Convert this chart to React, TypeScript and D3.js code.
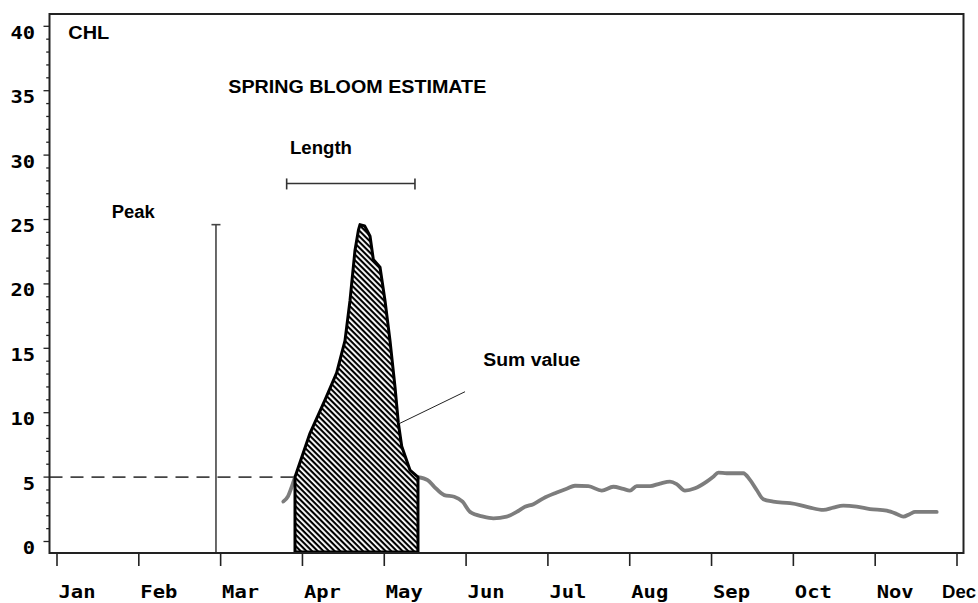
import React from 'react';
import * as d3 from 'd3';

const monthLabels = ['Jan', 'Feb', 'Mar', 'Apr', 'May', 'Jun', 'Jul', 'Aug', 'Sep', 'Oct', 'Nov', 'Dec'];
const yMajorTicks = [0, 5, 10, 15, 20, 25, 30, 35, 40];
const yMinorTicks = d3.range(0, 41, 1);

// Chlorophyll series: position in months from 1 Jan, value
const chlMonth = [
  2.766, 2.823, 2.872, 2.909, 3.092, 3.276, 3.418, 3.52, 3.581, 3.642, 3.685, 3.703, 3.76, 3.785,
  3.826, 3.866, 3.948, 4.009, 4.07, 4.131, 4.172, 4.213, 4.314, 4.412, 4.53, 4.611, 4.733, 4.855,
  4.957, 5.048, 5.21, 5.333, 5.496, 5.619, 5.72, 5.822, 5.944, 6.108, 6.23, 6.331, 6.494, 6.658,
  6.799, 6.921, 7.003, 7.085, 7.248, 7.37, 7.492, 7.574, 7.675, 7.798, 7.941, 8.021, 8.083, 8.185,
  8.388, 8.47, 8.552, 8.633, 8.755, 8.959, 9.081, 9.203, 9.366, 9.488, 9.61, 9.774, 9.937, 10.141,
  10.263, 10.344, 10.426, 10.487, 10.63, 10.752,
];
const chlValue = [
  3.1, 3.5, 4.3, 5.0, 8.4, 11.0, 13.1, 15.6, 18.7, 22.6, 24.2, 24.6, 24.5, 24.2,
  23.7, 21.9, 21.3, 18.7, 15.6, 12.0, 9.2, 7.4, 5.55, 5.0, 4.77, 4.25, 3.6, 3.47,
  3.09, 2.3, 1.93, 1.8, 1.93, 2.3, 2.7, 2.9, 3.35, 3.8, 4.1, 4.33, 4.3, 3.95,
  4.25, 4.08, 3.95, 4.3, 4.3, 4.5, 4.65, 4.46, 3.95, 4.13, 4.65, 5.03, 5.35, 5.3,
  5.3, 4.78, 4.0, 3.28, 3.1, 2.97, 2.83, 2.63, 2.45, 2.63, 2.78, 2.7, 2.52, 2.39,
  2.14, 1.93, 2.14, 2.3, 2.3, 2.3,
];

const bloomStart = 2.909;
const bloomEnd = 4.412;
const threshold = 5;
const peakMonth = 1.943;
const peakValue = 24.6;
const lengthStart = 2.807;
const lengthEnd = 4.375;
const lengthLevel = 27.8;
const sumPointerMonth = [4.192, 4.987];
const sumPointerValue = [9.18, 11.63];

const W = 978;
const H = 603;
const frame = { left: 49.5, right: 963.5, top: 14, bottom: 553 };

export default function App() {
  const x = d3.scaleLinear().domain([0, 11]).range([57, 957]);
  const y = d3.scaleLinear().domain([0, 40]).range([541.5, 26.3]);

  const pts = chlMonth.map((m, i) => ({ m, v: chlValue[i] }));
  const pre = pts.filter((p) => p.m <= bloomStart);
  const bloom = pts.filter((p) => p.m >= bloomStart && p.m <= bloomEnd);
  const post = pts.filter((p) => p.m >= bloomEnd);

  const line = d3
    .line<{ m: number; v: number }>()
    .x((d) => x(d.m))
    .y((d) => y(d.v))
    .curve(d3.curveMonotoneX);

  const area = d3
    .area<{ m: number; v: number }>()
    .x((d) => x(d.m))
    .y0(frame.bottom - 1)
    .y1((d) => y(d.v))
    .curve(d3.curveLinear);

  const sansBold = { fontFamily: '"Liberation Sans", Arial, sans-serif', fontWeight: 700, fontSize: 18, fill: '#000' };
  const monoBold = { fontFamily: '"DejaVu Sans Mono", monospace', fontWeight: 700, fontSize: 18, fill: '#000' };

  const annotations = [
    { text: 'CHL', x: 68.3, y: 39.3, len: 41 },
    { text: 'SPRING BLOOM ESTIMATE', x: 228.3, y: 92.7, len: 258 },
    { text: 'Length', x: 290, y: 154, len: 62 },
    { text: 'Peak', x: 111.7, y: 218.3, len: 43 },
    { text: 'Sum value', x: 483.3, y: 365.7, len: 97 },
  ];

  return (
    <svg width={W} height={H} style={{ position: 'absolute', left: 0, top: 0, background: '#fff' }}>
      <defs>
        <pattern id="hatch" patternUnits="userSpaceOnUse" width={4} height={4} patternTransform="rotate(45)">
          <rect width={4} height={4} fill="#fff" />
          <rect x={0} y={0} width={4} height={2.1} fill="#000" />
        </pattern>
      </defs>
      <rect x={0} y={0} width={W} height={H} fill="#fff" />

      {/* threshold dashed line */}
      <line
        x1={frame.left}
        x2={x(bloomStart)}
        y1={y(threshold)}
        y2={y(threshold)}
        stroke="#444"
        strokeWidth={1.6}
        strokeDasharray="13 8"
      />

      {/* peak marker */}
      <line x1={x(peakMonth)} x2={x(peakMonth)} y1={y(peakValue)} y2={frame.bottom} stroke="#444" strokeWidth={1.6} />
      <line x1={x(peakMonth) - 4.5} x2={x(peakMonth) + 4.5} y1={y(peakValue)} y2={y(peakValue)} stroke="#444" strokeWidth={1.6} />

      {/* length bar */}
      <line x1={x(lengthStart)} x2={x(lengthEnd)} y1={y(lengthLevel)} y2={y(lengthLevel)} stroke="#333" strokeWidth={1.6} />
      <line x1={x(lengthStart)} x2={x(lengthStart)} y1={y(lengthLevel) - 5} y2={y(lengthLevel) + 6} stroke="#333" strokeWidth={1.6} />
      <line x1={x(lengthEnd)} x2={x(lengthEnd)} y1={y(lengthLevel) - 5} y2={y(lengthLevel) + 6} stroke="#333" strokeWidth={1.6} />

      {/* gray series */}
      <path d={line(pre) || ''} fill="none" stroke="#7d7d7d" strokeWidth={3.8} strokeLinecap="round" strokeLinejoin="round" />
      <path d={line(post) || ''} fill="none" stroke="#7d7d7d" strokeWidth={3.8} strokeLinecap="round" strokeLinejoin="round" />

      {/* bloom area */}
      <path d={area(bloom) || ''} fill="url(#hatch)" stroke="#000" strokeWidth={3} strokeLinejoin="round" />

      {/* sum pointer */}
      <line
        x1={x(sumPointerMonth[0])}
        y1={y(sumPointerValue[0])}
        x2={x(sumPointerMonth[1])}
        y2={y(sumPointerValue[1])}
        stroke="#222"
        strokeWidth={1}
      />

      {/* frame */}
      <rect
        x={frame.left}
        y={frame.top}
        width={frame.right - frame.left}
        height={frame.bottom - frame.top}
        fill="none"
        stroke="#222"
        strokeWidth={2}
      />

      {/* y axis ticks */}
      {yMinorTicks.map((t) => (
        <line
          key={'m' + t}
          x1={frame.left - (t % 5 === 0 ? 6 : 3.3)}
          x2={frame.left}
          y1={y(t)}
          y2={y(t)}
          stroke="#222"
          strokeWidth={1.3}
        />
      ))}
      {yMajorTicks.map((t) => (
        <text
          key={'yl' + t}
          x={35}
          y={y(t) + 12.5}
          textAnchor="end"
          textLength={String(t).length * 12.3}
          lengthAdjust="spacingAndGlyphs"
          style={monoBold}
        >
          {t}
        </text>
      ))}

      {/* x axis ticks */}
      {monthLabels.map((m, i) => (
        <line key={'xt' + m} x1={x(i)} x2={x(i)} y1={frame.bottom} y2={frame.bottom + 13} stroke="#222" strokeWidth={1.6} />
      ))}
      {monthLabels.map((m, i) =>
        m === 'Dec' ? (
          <text key={'xl' + m} x={942} y={598} textLength={34} lengthAdjust="spacingAndGlyphs" style={{ ...sansBold, fontSize: 18 }}>
            {m}
          </text>
        ) : (
          <text
            key={'xl' + m}
            x={x(i) + 1.5}
            y={598}
            textLength={37}
            lengthAdjust="spacingAndGlyphs"
            style={monoBold}
          >
            {m}
          </text>
        )
      )}

      {/* annotations */}
      {annotations.map((a) => (
        <text key={a.text} x={a.x} y={a.y} textLength={a.len} lengthAdjust="spacingAndGlyphs" style={sansBold}>
          {a.text}
        </text>
      ))}
    </svg>
  );
}
